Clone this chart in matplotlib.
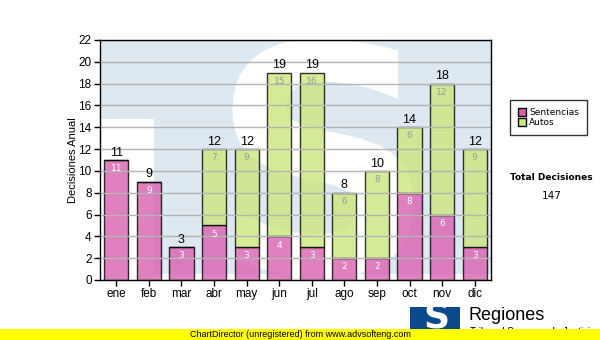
import numpy as np
import matplotlib.pyplot as plt
from matplotlib.patches import Rectangle

meses = ["ene", "feb", "mar", "abr", "may", "jun", "jul", "ago", "sep", "oct", "nov", "dic"]
sentencias = [11, 9, 3, 5, 3, 4, 3, 2, 2, 8, 6, 3]
autos = [0, 0, 0, 7, 9, 15, 16, 6, 8, 6, 12, 9]
yticks = list(range(0, 23, 2))

rosa = "#d860b0"
verde = "#cce77e"
azul_fondo = "#dde8f1"

sentencias = np.array(sentencias)
autos = np.array(autos)
totales = sentencias + autos
x = np.arange(len(meses))

fig = plt.figure(figsize=(6, 3.4), dpi=100)
ax = fig.add_axes([100/600, 60/340, 391/600, 240/340])

# logo de fondo
ax.add_patch(Rectangle((0, 0.025), 1, 0.975, transform=ax.transAxes,
                       facecolor=azul_fondo, edgecolor="none", zorder=0))
ax.add_patch(Rectangle((0, 0.025), 0.138, 0.645, transform=ax.transAxes,
                       facecolor="white", edgecolor="none", zorder=0))
ax.text(0.57, 0.03, "S", transform=ax.transAxes, fontsize=226, fontweight="bold",
        family="DejaVu Sans", color="white", ha="center", va="baseline",
        zorder=0.5, clip_on=True)

ax.yaxis.grid(True, color="#b4b4b4", linewidth=1, zorder=1)
ax.set_axisbelow(False)

ax.bar(x, sentencias, width=0.74, color=rosa, alpha=0.8, edgecolor="black",
       linewidth=1, zorder=2, label="Sentencias")
ax.bar(x, autos, width=0.74, bottom=sentencias, color=verde, alpha=0.8,
       edgecolor="black", linewidth=1, zorder=2, label="Autos")

for i in x:
    ax.annotate(str(totales[i]), (i, totales[i]), xytext=(0, 1), textcoords="offset points",
                ha="center", va="bottom", fontsize=9, family="Liberation Sans", zorder=3)
    ax.annotate(str(sentencias[i]), (i, sentencias[i]), xytext=(0, -3), textcoords="offset points",
                ha="center", va="top", fontsize=6.5, color="white", zorder=3)
    if autos[i] > 0:
        ax.annotate(str(autos[i]), (i, totales[i]), xytext=(0, -3), textcoords="offset points",
                    ha="center", va="top", fontsize=6.5, color="#9a9a9a", zorder=3)

ax.set_xlim(-0.5, len(meses) - 0.5)
ax.set_ylim(0, 22)
ax.set_yticks(yticks)
ax.set_xticks(x)
ax.set_xticklabels(meses)
ax.tick_params(labelsize=8.5, length=4, width=1, pad=2)
for lbl in ax.get_xticklabels() + ax.get_yticklabels():
    lbl.set_family("Liberation Sans")
ax.set_ylabel("Decisiones Anual", fontsize=8, family="Liberation Sans", labelpad=0)
for s in ax.spines.values():
    s.set_linewidth(1)
    s.set_zorder(4)

leg = fig.legend(loc="upper left", bbox_to_anchor=(510/600, 1 - 100/340), fontsize=6.5,
                 frameon=True, fancybox=False, edgecolor="black", handlelength=0.9,
                 handleheight=0.9, handletextpad=0.3, borderpad=0.9, labelspacing=0.1,
                 borderaxespad=0)
leg.get_frame().set_linewidth(1)
for h in leg.legend_handles:
    h.set_alpha(1)
    h.set_edgecolor("black")

fig.text(551/600, 1 - 178/340, "Total Decisiones", ha="center", va="center",
         fontsize=6.5, fontweight="bold")
fig.text(552/600, 1 - 196/340, str(totales.sum()), ha="center", va="center", fontsize=7.5)

# logo inferior
fig.patches.append(Rectangle((410/600, 0), 50/600, 33/340, transform=fig.transFigure,
                             facecolor="#0b4a8c", edgecolor="none"))
fig.text(436/600, 1 - 318/340, "S", ha="center", va="center", fontsize=26,
         fontweight="bold", color="white")
fig.text(468/600, 1 - 315/340, "Regiones", ha="left", va="center", fontsize=13,
         family="Liberation Sans")
fig.text(470/600, 1 - 332/340, "Tribunal Supremo de Justicia", ha="left", va="center",
         fontsize=7, family="Liberation Sans", zorder=1)

# franja amarilla
fig.patches.append(Rectangle((0, 0), 1, 11/340, transform=fig.transFigure,
                             facecolor="#ffff00", edgecolor="none", zorder=5))
fig.text(0.5, 5.5/340, "ChartDirector (unregistered) from www.advsofteng.com",
         ha="center", va="center", fontsize=6.5, family="Liberation Sans", zorder=6)

fig.savefig("out.png", dpi=100)
